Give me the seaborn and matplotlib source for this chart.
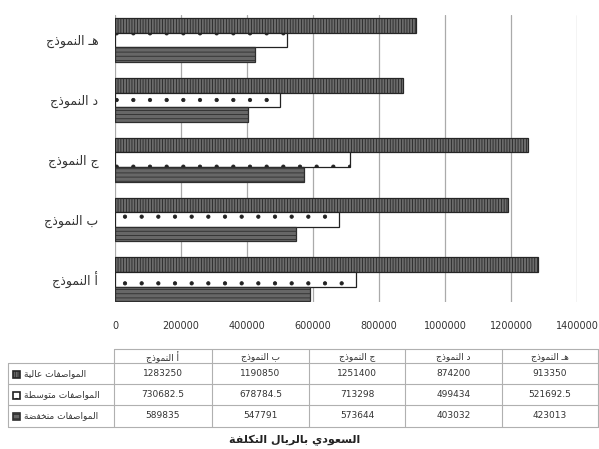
import matplotlib
matplotlib.use("Agg")
import matplotlib.pyplot as plt
import matplotlib.patches as mpatches
import seaborn as sns
import pandas as pd

# data
models = ["النموذج أ", "النموذج ب", "النموذج ج", "النموذج د", "النموذج هـ"]
specs = ["عالية المواصفات", "متوسطة المواصفات", "منخفضة المواصفات"]
high = [1283250, 1190850, 1251400, 874200, 913350]
mid = [730682.5, 678784.5, 713298, 499434, 521692.5]
low = [589835, 547791, 573644, 403032, 423013]
xticks = [0, 200000, 400000, 600000, 800000, 1000000, 1200000, 1400000]
title = "التكلفة بالريال السعودي"

# arabic shaping (presentation forms) - no reshaper available offline
FORMS = {
    'ا': ('\uFE8D', '\uFE8E'),
    'أ': ('\uFE83', '\uFE84'),
    'ب': ('\uFE8F', '\uFE90', '\uFE91', '\uFE92'),
    'ت': ('\uFE95', '\uFE96', '\uFE97', '\uFE98'),
    'ة': ('\uFE93', '\uFE94'),
    'ج': ('\uFE9D', '\uFE9E', '\uFE9F', '\uFEA0'),
    'خ': ('\uFEA5', '\uFEA6', '\uFEA7', '\uFEA8'),
    'د': ('\uFEA9', '\uFEAA'),
    'ذ': ('\uFEAB', '\uFEAC'),
    'ر': ('\uFEAD', '\uFEAE'),
    'س': ('\uFEB1', '\uFEB2', '\uFEB3', '\uFEB4'),
    'ص': ('\uFEB9', '\uFEBA', '\uFEBB', '\uFEBC'),
    'ض': ('\uFEBD', '\uFEBE', '\uFEBF', '\uFEC0'),
    'ط': ('\uFEC1', '\uFEC2', '\uFEC3', '\uFEC4'),
    'ع': ('\uFEC9', '\uFECA', '\uFECB', '\uFECC'),
    'ف': ('\uFED1', '\uFED2', '\uFED3', '\uFED4'),
    'ك': ('\uFED9', '\uFEDA', '\uFEDB', '\uFEDC'),
    'ل': ('\uFEDD', '\uFEDE', '\uFEDF', '\uFEE0'),
    'م': ('\uFEE1', '\uFEE2', '\uFEE3', '\uFEE4'),
    'ن': ('\uFEE5', '\uFEE6', '\uFEE7', '\uFEE8'),
    'ه': ('\uFEE9', '\uFEEA', '\uFEEB', '\uFEEC'),
    'و': ('\uFEED', '\uFEEE'),
    'ي': ('\uFEF1', '\uFEF2', '\uFEF3', '\uFEF4'),
    'ـ': ('\u0640', '\u0640', '\u0640', '\u0640'),
}


def shape_word(w):
    out = []
    for i, c in enumerate(w):
        if c not in FORMS:
            out.append(c)
            continue
        f = FORMS[c]
        prev = w[i - 1] if i > 0 else None
        nxt = w[i + 1] if i < len(w) - 1 else None
        jp = prev in FORMS and len(FORMS[prev]) == 4
        jn = nxt in FORMS and len(f) == 4
        if jp and jn:
            out.append(f[3])
        elif jp:
            out.append(f[1])
        elif jn:
            out.append(f[2])
        else:
            out.append(f[0])
    return "".join(reversed(out))


def ar(s):
    # the reference keeps the words in left-to-right order
    return " ".join(shape_word(w) for w in s.split(" "))


sns.set_style("white")
plt.rcParams['font.family'] = ['DejaVu Sans']
plt.rcParams['hatch.linewidth'] = 0.6

df = pd.DataFrame({
    "model": models * 3,
    "spec": [specs[0]] * 5 + [specs[1]] * 5 + [specs[2]] * 5,
    "value": high + mid + low,
})

fig = plt.figure(figsize=(5.99, 4.49), dpi=100)
ax = fig.add_axes([115 / 599, 1 - 302 / 449, (577 - 115) / 599, (302 - 15) / 449])

order = models[::-1]
sns.barplot(data=df, x="value", y="model", hue="spec",
            order=order, hue_order=specs, orient="h", width=0.73,
            palette=["#555555", "#ffffff", "#6e6e6e"], saturation=1,
            legend=False, ax=ax)

styles = [
    dict(facecolor="#6c6c6c", edgecolor="#262626", hatch="||||||"),
    dict(facecolor="#ffffff", edgecolor="#222222", hatch="."),
    dict(facecolor="#676767", edgecolor="#2e2e2e", hatch="----"),
]
for cont, st in zip(ax.containers, styles):
    for p in cont.patches:
        p.set_facecolor(st["facecolor"])
        p.set_edgecolor(st["edgecolor"])
        p.set_hatch(st["hatch"])
        p.set_linewidth(0.9)

ax.set_xlim(0, 1400000)
ax.set_ylim(4.38, -0.42)
ax.set_xticks(xticks)
ax.set_xticklabels([str(t) for t in xticks], fontsize=7, color="#333333")
ax.set_yticks(range(len(order)))
ax.set_yticklabels([ar(m) for m in order], fontsize=9, color="#333333")
ax.tick_params(axis="x", length=6, color="#aaaaaa", pad=8)
ax.tick_params(axis="y", length=0, pad=12)
ax.xaxis.grid(True, color="#aaaaaa", linewidth=0.9)
ax.set_axisbelow(True)
for s in ax.spines.values():
    s.set_visible(False)
ax.set_xlabel("")
ax.set_ylabel("")

# data table under the chart (pixel coordinates)
tab = fig.add_axes([0, 0, 1, 1])
tab.set_xlim(0, 599)
tab.set_ylim(449, 0)
tab.axis("off")
tab.patch.set_alpha(0)

cols = [114, 212, 309, 405, 502, 598]
rows = [349, 363, 384, 405, 427]
lc = "#b0b0b0"
tab.plot([cols[0], cols[-1]], [rows[0], rows[0]], color=lc, lw=0.8)
for y in rows[1:]:
    tab.plot([8, cols[-1]], [y, y], color=lc, lw=0.8)
tab.plot([8, 8], [rows[1], rows[-1]], color=lc, lw=0.8)
for x in cols:
    tab.plot([x, x], [rows[0], rows[-1]], color=lc, lw=0.8)

for j, m in enumerate(models):
    tab.text((cols[j] + cols[j + 1]) / 2, (rows[0] + rows[1]) / 2 + 1, ar(m),
             ha="center", va="center", fontsize=6.5, color="#333333")


def fmt(v):
    return str(int(v)) if float(v).is_integer() else f"{v:.1f}"


series = [high, mid, low]
for i, (sp, vals, st) in enumerate(zip(specs, series, styles)):
    yc = (rows[i + 1] + rows[i + 2]) / 2
    tab.add_patch(mpatches.Rectangle((13, yc - 3), 7, 7, linewidth=1.2, **st))
    tab.text(24, yc, ar(sp), ha="left", va="center", fontsize=6.5, color="#333333")
    for j, v in enumerate(vals):
        tab.text((cols[j] + cols[j + 1]) / 2, yc, fmt(v),
                 ha="center", va="center", fontsize=6.5, color="#333333")

tab.text(295, 440, ar(title), ha="center", va="center", fontsize=8,
         fontweight="bold", color="#222222")

fig.savefig("out.png", dpi=100, facecolor="white")
